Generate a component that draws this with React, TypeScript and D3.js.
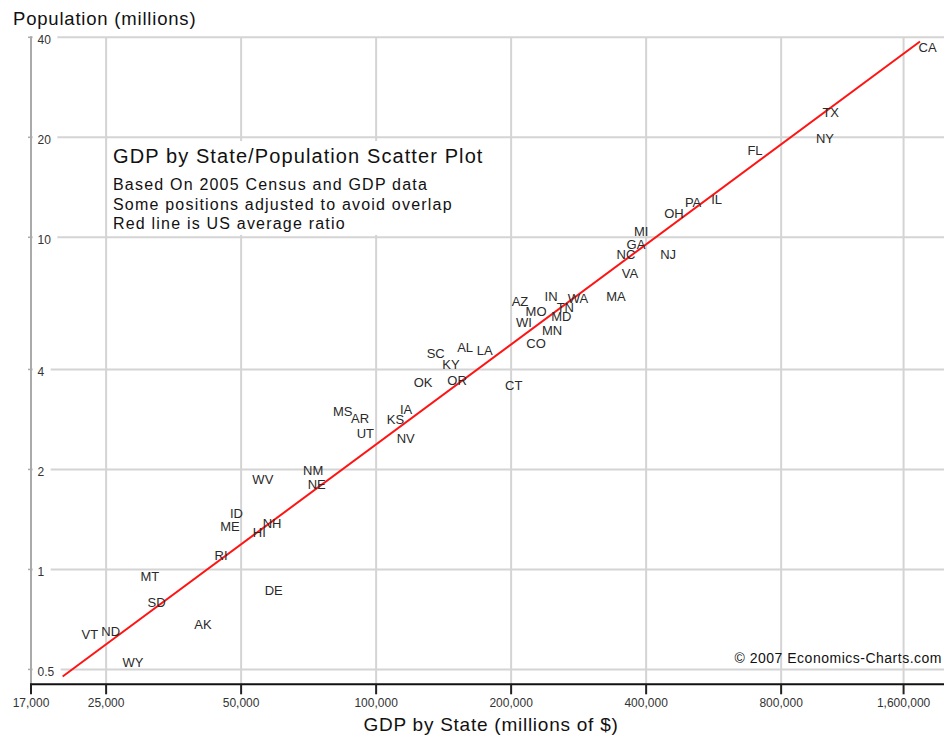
import React from 'react';
import * as d3 from 'd3';

const W = 944;
const H = 735;

// State labels (positions, some adjusted in the original to avoid overlap)
const states = [
  'CA', 'TX', 'NY', 'FL', 'IL', 'PA', 'OH', 'MI', 'GA', 'NC',
  'NJ', 'VA', 'MA', 'IN', 'WA', 'AZ', 'TN', 'MO', 'MD', 'WI',
  'MN', 'CO', 'CT', 'SC', 'AL', 'LA', 'KY', 'OK', 'OR', 'MS',
  'AR', 'IA', 'KS', 'UT', 'NV', 'WV', 'NM', 'NE', 'ID', 'ME',
  'NH', 'HI', 'RI', 'MT', 'DE', 'SD', 'AK', 'VT', 'ND', 'WY',
];
// GDP by state, millions of $
const gdpMillions = [
  1697000, 1032000, 1002000, 699600, 574200, 509000, 461500, 389800, 379700, 360600,
  447700, 368300, 342700, 245500, 282000, 209300, 264200, 227300, 258800, 213700,
  246700, 227300, 202700, 135800, 157900, 174600, 146800, 127300, 151500, 84200,
  92100, 116600, 110400, 94600, 116400, 55900, 72400, 73700, 48800, 47200,
  58600, 54900, 45100, 31300, 59100, 32400, 41100, 23000, 25600, 28700,
];
// Population, millions
const popMillions = [
  37.4, 23.8, 19.9, 18.3, 13.0, 12.7, 11.76, 10.38, 9.55, 8.91,
  8.91, 7.78, 6.63, 6.63, 6.56, 6.39, 6.17, 5.99, 5.76, 5.56,
  5.26, 4.8, 3.59, 4.48, 4.66, 4.58, 4.14, 3.65, 3.72, 2.99,
  2.85, 3.04, 2.82, 2.57, 2.48, 1.87, 1.98, 1.8, 1.47, 1.35,
  1.38, 1.29, 1.1, 0.956, 0.866, 0.794, 0.682, 0.637, 0.652, 0.525,
];

const xTickValues = [17000, 25000, 50000, 100000, 200000, 400000, 800000, 1500000];
const xTickLabels = ['17,000', '25,000', '50,000', '100,000', '200,000', '400,000', '800,000', '1,600,000'];
const yTickValues = [40, 20, 10, 4, 2, 1, 0.5];
const yTickLabels = ['40', '20', '10', '4', '2', '1', '0.5'];

// US average ratio (population millions per GDP millions)
const usPopulation = 296.4;
const usGdp = 12455000;
const lineGdpRange = [20000, 1632000];

const titleText = 'GDP by State/Population Scatter Plot';
const subtitleLines = [
  'Based On 2005 Census and GDP data',
  'Some positions adjusted to avoid overlap',
  'Red line is US average ratio',
];
const yAxisTitle = 'Population (millions)';
const xAxisTitle = 'GDP by State (millions of $)';
const copyright = '\u00A9 2007 Economics-Charts.com';

const FONT = "'Liberation Sans', Arial, Helvetica, sans-serif";

function approxWidth(s: string, size: number) {
  let w = 0;
  for (const c of s) w += c === '.' || c === ',' ? 0.278 : 0.556;
  return w * size;
}

export default function App() {
  const left = 31, right = 944, top = 37.3, bottom = 684.3;
  const x = d3.scaleLog().domain([17000, 1846000]).range([left, right]);
  const y = d3.scaleLog().domain([0.451, 40]).range([bottom, top]);

  const linePts: [number, number][] = lineGdpRange.map((g) => [g, (g * usPopulation) / usGdp]);
  const linePath = d3
    .line<[number, number]>()
    .x((d) => x(d[0]))
    .y((d) => y(d[1]))(linePts) as string;

  const grid = '#d4d4d4';

  return (
    <svg
      width={W}
      height={H}
      viewBox={`0 0 ${W} ${H}`}
      style={{ position: 'absolute', left: 0, top: 0, background: '#fff', fontFamily: FONT }}
    >
      <rect x={0} y={0} width={W} height={H} fill="#fff" />

      {/* horizontal grid */}
      {yTickValues.map((v) => (
        <line key={'hg' + v} x1={left} x2={right} y1={y(v)} y2={y(v)} stroke={grid} strokeWidth={2} />
      ))}
      {/* vertical grid */}
      {xTickValues.slice(1).map((v) => (
        <line key={'vg' + v} x1={x(v)} x2={x(v)} y1={top} y2={bottom} stroke={grid} strokeWidth={2} />
      ))}

      {/* title box */}
      <rect x={108} y={141} width={384} height={94} fill="#fff" />
      <text x={113} y={162.5} fontSize={20} letterSpacing={1.1} fill="#111">{titleText}</text>
      {subtitleLines.map((s, i) => (
        <text key={s} x={113} y={190 + i * 19.5} fontSize={16} letterSpacing={1.2} fill="#111">{s}</text>
      ))}

      {/* y tick labels with white background */}
      {yTickValues.map((v, i) => (
        <g key={'yl' + v}>
          <rect
            x={33}
            y={y(v) - 4}
            width={approxWidth(yTickLabels[i], 12) + 11}
            height={9}
            fill="#fff"
          />
          <text x={37.5} y={y(v) + 6.5} fontSize={12} fill="#333">{yTickLabels[i]}</text>
        </g>
      ))}

      {/* y axis line */}
      <line x1={left} x2={left} y1={top - 1} y2={bottom} stroke="#aaa" strokeWidth={2} />
      {yTickValues.map((v) => (
        <line key={'yt' + v} x1={left - 3} x2={left} y1={y(v)} y2={y(v)} stroke="#aaa" strokeWidth={1.5} />
      ))}

      {/* red average line */}
      <path d={linePath} stroke="#ff1414" strokeWidth={2} fill="none" />

      {/* state labels */}
      {states.map((s, i) => (
        <text
          key={s}
          x={x(gdpMillions[i])}
          y={y(popMillions[i])}
          dy={4.6}
          textAnchor="middle"
          fontSize={13}
          fill="#2a2a2a"
        >
          {s}
        </text>
      ))}

      {/* x axis */}
      <line x1={left - 1} x2={right} y1={bottom} y2={bottom} stroke="#111" strokeWidth={2} />
      {xTickValues.map((v, i) => (
        <g key={'xt' + v}>
          <line x1={x(v)} x2={x(v)} y1={bottom} y2={bottom + 10} stroke="#222" strokeWidth={2} />
          <text x={x(v)} y={bottom + 22.7} textAnchor="middle" fontSize={12} fill="#333">
            {xTickLabels[i]}
          </text>
        </g>
      ))}

      {/* axis titles */}
      <text x={13} y={25} fontSize={18.5} letterSpacing={0.8} fill="#111">{yAxisTitle}</text>
      <text x={491} y={731} textAnchor="middle" fontSize={19} letterSpacing={0.75} fill="#111">{xAxisTitle}</text>

      {/* copyright */}
      <text x={942} y={662.5} textAnchor="end" fontSize={14} letterSpacing={0.5} fill="#111">{copyright}</text>
    </svg>
  );
}
